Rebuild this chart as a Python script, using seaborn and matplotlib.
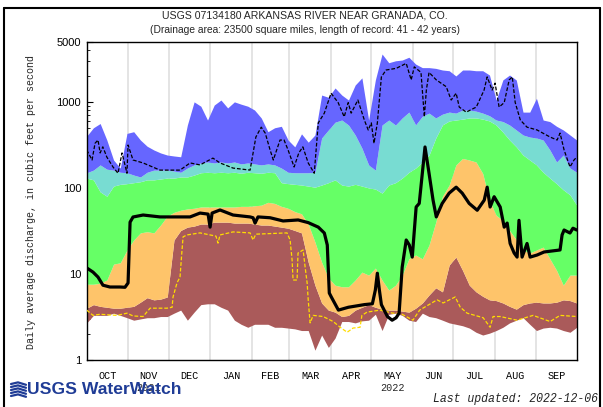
import matplotlib.pyplot as plt
import matplotlib.ticker as mticker
from matplotlib.lines import Line2D
import seaborn as sns

sns.set_theme(style="white")
plt.rcParams["font.family"] = ["Liberation Sans", "DejaVu Sans"]

# days since 2021-10-01 (water year 2022)
band_days = list(range(0, 366, 5))

# daily discharge percentiles, cfs
q_max = [400, 500, 560, 360, 211, 170, 430, 450, 360, 305,
         276, 255, 241, 235, 230, 540, 1000, 890, 615, 919,
         1050, 850, 1000, 940, 890, 804, 650, 450, 500, 520,
         360, 300, 425, 340, 412, 1200, 1130, 1450, 1200, 1050,
         1570, 1900, 615, 1795, 3600, 2850, 3000, 3064, 3300, 2750,
         2500, 2500, 2450, 2345, 2300, 2000, 2345, 2345, 2300, 2300,
         2051, 1050, 1800, 2050, 1795, 760, 760, 1100, 615, 590,
         520, 471, 412, 360]
q90 = [150, 161, 185, 165, 161, 152, 150, 141, 134, 152,
       161, 161, 161, 157, 152, 170, 185, 195, 200, 195,
       200, 195, 200, 190, 195, 190, 185, 190, 185, 170,
       152, 150, 150, 150, 152, 380, 471, 580, 615, 538,
       412, 290, 185, 161, 538, 615, 538, 650, 760, 540,
       680, 740, 650, 720, 760, 740, 804, 804, 780, 740,
       690, 615, 590, 538, 471, 412, 390, 380, 360, 276,
       200, 241, 170, 152]
q75 = [130, 124, 90, 80, 105, 110, 112, 115, 118, 124,
       124, 127, 130, 130, 134, 134, 141, 150, 152, 150,
       152, 150, 152, 148, 152, 150, 148, 152, 150, 115,
       112, 110, 108, 105, 102, 108, 115, 124, 108, 105,
       110, 105, 100, 97, 87, 108, 115, 130, 152, 170,
       200, 241, 380, 540, 600, 615, 630, 650, 650, 630,
       600, 538, 445, 360, 300, 241, 211, 185, 152, 130,
       112, 95, 83, 63]
q25 = [7.6, 7.6, 7.8, 8.5, 13, 13.5, 19, 24.8, 30, 31,
       30, 37, 47, 52, 55, 57, 58, 60, 60, 60,
       60, 60, 60, 61, 61, 62, 63, 68, 66, 61,
       58, 53, 50, 38, 23.5, 13.7, 9, 7.4, 7.1, 7.1,
       8.5, 10.5, 9.7, 11.7, 8.5, 6.5, 7.4, 9.7, 15, 16.6,
       15, 21.7, 40, 80, 108, 185, 220, 211, 200, 147,
       72, 48, 42, 32, 25, 19, 17.5, 19, 20.5, 15,
       11, 7.4, 9.7, 9.7]
q10 = [4.0, 4.4, 4.2, 4.1, 4.0, 4.0, 4.1, 4.2, 4.7, 5.3,
       5.0, 5.1, 5.4, 24.8, 32, 35, 36, 38, 38, 40,
       40, 40, 39, 39, 39, 38, 37, 37, 36, 35,
       34, 32, 30, 13.7, 7.4, 4.6, 3.8, 3.6, 3.2, 3.3,
       3.8, 4.1, 4.4, 4.1, 3.9, 3.8, 3.8, 3.7, 3.6, 4.0,
       4.6, 5.7, 6.9, 6.2, 12.7, 15.7, 11, 7.4, 6.2, 5.5,
       5.0, 4.9, 4.6, 4.2, 3.9, 4.4, 4.6, 4.7, 4.6, 4.6,
       4.7, 5.0, 4.9, 4.6]
q_min = [2.7, 3.3, 3.3, 3.3, 3.5, 3.3, 3.1, 2.9, 3.0, 3.1,
         3.1, 3.2, 3.2, 3.5, 3.8, 2.9, 3.6, 4.4, 4.5, 4.5,
         4.1, 3.8, 2.9, 2.6, 2.4, 2.6, 2.6, 2.6, 2.4, 2.4,
         2.35, 2.3, 2.2, 2.2, 1.3, 1.95, 1.4, 1.8, 2.8, 2.8,
         2.7, 2.85, 2.9, 3.4, 2.2, 3.4, 3.5, 3.3, 2.9, 2.8,
         3.5, 3.2, 3.1, 2.9, 2.7, 2.6, 2.5, 2.35, 2.1, 1.95,
         2.05, 2.2, 2.4, 2.7, 2.9, 3.1, 2.6, 2.2, 2.35, 2.4,
         2.35, 2.2, 2.1, 2.4]

# current year flow
flow_days = [0.2, 4.7, 8.4, 12.1, 17.3, 24.8, 28.5, 30.8, 32.3, 34.5, 42, 54.6,
             69.5, 77, 84.4, 90.4, 91.9, 93.4, 99.3, 109, 121.7, 123.9, 125.4,
             127.6, 136.6, 146.3, 157.5, 165, 172.5, 177, 179.2, 180.7, 182.2,
             187.5, 194.9, 206.8, 212.8, 215, 216.5, 218, 219.5, 224, 227.5,
             230.5, 232.7, 235, 238, 240.3, 242.5, 245.4, 247.7, 250, 252, 255,
             258, 260.4, 264.8, 270, 275.2, 279.7, 284.9, 290.9, 296.1, 298.3,
             300.5, 303.5, 308, 311, 313.2, 315.4, 318.4, 320.6, 322, 324.3,
             328, 330.3, 335.5, 340.7, 352.6, 354.1, 355.6, 360, 362.2, 365]
flow_cfs = [11.7, 10.5, 9.2, 7.4, 7.05, 7.05, 7.0, 7.85, 40, 45.9, 48.4, 46,
            46, 46, 51, 49.6, 35, 51, 55.4, 48.4, 46, 45, 39,
            46, 45, 41.3, 42.4, 39.5, 35, 29.9, 21.7, 6.0, 5.4,
            3.8, 4.1, 4.4, 4.5, 6.5, 10.2, 6.5, 4.4, 3.2, 2.9,
            3.1, 3.5, 12.0, 24.8, 21.7, 15.7, 60, 66, 148, 299, 148,
            72, 46, 66, 87, 102, 87, 66, 55, 72, 102,
            60, 79, 60, 35, 39, 22.6, 17.5, 15.7, 42, 15.7,
            22.6, 15.7, 16.6, 18, 19, 28.4, 32.4, 29.9, 34, 32.4]

# upper dashed curve
upper_days = [0, 4, 6.2, 8.4, 10, 12, 15, 19.6, 23.3, 26.3, 30, 30.8, 34.5, 42,
              54.6, 69.5, 77, 84.4, 94, 99.3, 109, 121.7, 126, 130, 133, 136.6,
              139, 144, 147, 150, 154.5, 158, 161, 165, 169.5, 172.5, 177, 182,
              187.3, 191.8, 194.8, 197, 202, 206.8, 209.7, 212, 214, 216.5,
              219.5, 223, 230.5, 238, 241.7, 244, 249, 251.5, 253, 255, 260.4,
              267.8, 271.5, 275.2, 277.5, 282.7, 290.2, 296, 298.3, 302, 304.2,
              307.2, 311, 314.7, 317, 319.2, 323, 328, 335.5, 345.2, 350.4,
              352.6, 355.6, 360, 363, 365]
upper_cfs = [276, 211, 330, 360, 255, 300, 228, 175, 148, 255, 148, 315, 211, 195,
             161, 161, 195, 185, 222, 195, 170, 161, 390, 508, 433, 276,
             211, 360, 360, 276, 175, 255, 300, 195, 148, 570, 740, 1260,
             980, 670, 980, 740, 1050, 615, 471, 570, 330, 570,
             1950, 2345, 2450, 2800, 1800, 2550, 2200, 670, 1370, 2200, 1800,
             1500, 1050, 1260, 870, 760, 870, 1370, 1950, 1370, 1650,
             870, 980, 1800, 1950, 980, 615, 508, 471, 390, 360,
             433, 276, 175, 211, 228]

# lower dashed curve
lower_days = [0, 4.7, 10, 22.6, 30, 34.5, 42, 47.2, 59.8, 63.6, 64.3, 67.3, 69.5,
              71, 71.8, 74.7, 84.4, 96.3, 97.8, 99.3, 109, 121.7, 123.9, 126,
              149.2, 151.5, 153, 153.7, 156.7, 157.4, 161.2, 162.7, 164.2, 165,
              166.4, 168.7, 176.1, 183.6, 188.8, 194, 198.4, 203.6, 205, 208.8,
              218.5, 228, 233.5, 243, 248, 261, 265.5, 274.5, 278.3, 283.4,
              295.3, 300.5, 302.7, 308, 320.6, 332.5, 345.2, 352.6, 365]
lower_cfs = [3.8, 3.3, 3.4, 3.3, 3.5, 3.25, 3.2, 4.0, 4.0, 4.1, 5.4, 7.9, 9.2,
             19, 27, 28.4, 30, 27.5, 22.8, 28.4, 30.8, 30, 24.8, 29,
             30, 24.8, 14.5, 8.5, 8.5, 17.5, 19, 12, 7.85, 5.0,
             2.7, 3.3, 3.2, 2.8, 2.4, 2.1, 2.35, 2.4, 3.3, 3.6,
             3.8, 3.5, 3.5, 2.9, 3.8, 5.0, 4.6, 5.4, 4.1, 3.5,
             3.1, 2.4, 3.2, 3.2, 2.9, 3.3, 2.8, 3.3, 3.2]

month_starts = [0, 31, 61, 92, 123, 151, 182, 212, 243, 273, 304, 335, 365]
month_names = ["OCT", "NOV", "DEC", "JAN", "FEB", "MAR",
               "APR", "MAY", "JUN", "JUL", "AUG", "SEP"]
year_labels = [("2021", "NOV"), ("2022", "MAY")]
y_ticks = [1, 10, 100, 1000, 5000]

fig = plt.figure(figsize=(6.03, 4.07), dpi=100)
ax = fig.add_axes([0.1438, 0.1155, 0.8126, 0.782])
ax.set_yscale("log")

# month grid under the bands
for d in month_starts[1:-1]:
    ax.axvline(d, color="#dcdcdc", lw=1.1, zorder=0)

ax.fill_between(band_days, q_min, q10, color="#aa5a5a", lw=0, zorder=1)
ax.fill_between(band_days, q10, q25, color="#fec46a", lw=0, zorder=1)
ax.fill_between(band_days, q25, q75, color="#66ff66", lw=0, zorder=1)
ax.fill_between(band_days, q75, q90, color="#78dcd2", lw=0, zorder=1)
ax.fill_between(band_days, q90, q_max, color="#6666ff", lw=0, zorder=1)

sns.lineplot(x=lower_days, y=lower_cfs, ax=ax, color="#ffdd00", linewidth=0.9,
             linestyle=(0, (3, 1.5)), estimator=None, sort=False, zorder=3)
sns.lineplot(x=upper_days, y=upper_cfs, ax=ax, color="black", linewidth=0.9,
             linestyle=(0, (3, 1.5)), estimator=None, sort=False, zorder=3)
sns.lineplot(x=flow_days, y=flow_cfs, ax=ax, color="black", linewidth=2.3,
             estimator=None, sort=False, zorder=4)

ax.set_xlim(0, 364)
ax.set_ylim(1, 5000)
ax.set_xlabel("")
ax.set_ylabel("")

# y axis
ax.set_yticks(y_ticks)
ax.set_yticklabels([str(v) for v in y_ticks])
ax.yaxis.set_minor_locator(mticker.LogLocator(base=10, subs=range(2, 10)))
ax.yaxis.set_minor_formatter(mticker.NullFormatter())
ax.tick_params(axis="y", which="major", direction="in", length=4, width=0.8,
               left=True, pad=4, labelsize=8, colors="black")
ax.tick_params(axis="y", which="minor", direction="in", length=2.5, width=0.7,
               left=True)

# x axis: labels centred in each month
mids = [(a + b) / 2 for a, b in zip(month_starts[:-1], month_starts[1:])]
ax.set_xticks(month_starts)
ax.set_xticklabels([])
ax.set_xticks(mids, minor=True)
ax.set_xticklabels(month_names, minor=True, family="Liberation Mono", fontsize=7.3)
ax.tick_params(axis="x", which="both", length=0, pad=8, colors="black")

for yr, mon in year_labels:
    ax.text(mids[month_names.index(mon)], -0.088, yr, transform=ax.get_xaxis_transform(),
            ha="center", va="center", family="Liberation Mono", fontsize=7.3)

for s in ax.spines.values():
    s.set_color("black")
    s.set_linewidth(1.0)

fig.text(0.506, 1 - 15 / 407, "USGS 07134180 ARKANSAS RIVER NEAR GRANADA, CO.",
         ha="center", va="center", fontsize=7.6)
fig.text(0.506, 1 - 30 / 407,
         "(Drainage area: 23500 square miles, length of record: 41 - 42 years)",
         ha="center", va="center", fontsize=7.4)
fig.text(31 / 603, 1 - 202 / 407, "Daily average discharge, in cubic feet per second",
         rotation=90, ha="center", va="center", family="Liberation Mono", fontsize=7.2)

# logo
navy = "#1f3c96"
for k in range(5):
    yy = 1 - (384 + k * 3) / 407
    fig.add_artist(Line2D([11 / 603, 18 / 603, 26 / 603], [yy, yy + 0.004, yy - 0.002],
                          color=navy, lw=1.6, transform=fig.transFigure))
fig.text(27 / 603, 1 - 390 / 407, "USGS WaterWatch", ha="left", va="center",
         fontsize=12.6, fontweight="bold", color=navy)
fig.text(433 / 603, 1 - 399 / 407, "Last updated: 2022-12-06", ha="left", va="center",
         family="Liberation Mono", style="italic", fontsize=8.3, color="#222222")

# outer frame
fr = dict(color="black", lw=1.5, transform=fig.transFigure)
fig.add_artist(Line2D([4 / 603, 4 / 603], [0, 1 - 8 / 407], **fr))
fig.add_artist(Line2D([4 / 603, 600 / 603], [1 - 8 / 407, 1 - 8 / 407], **fr))
fig.add_artist(Line2D([600 / 603, 600 / 603], [0, 1 - 8 / 407], **fr))

fig.savefig("out.png", dpi=100)
